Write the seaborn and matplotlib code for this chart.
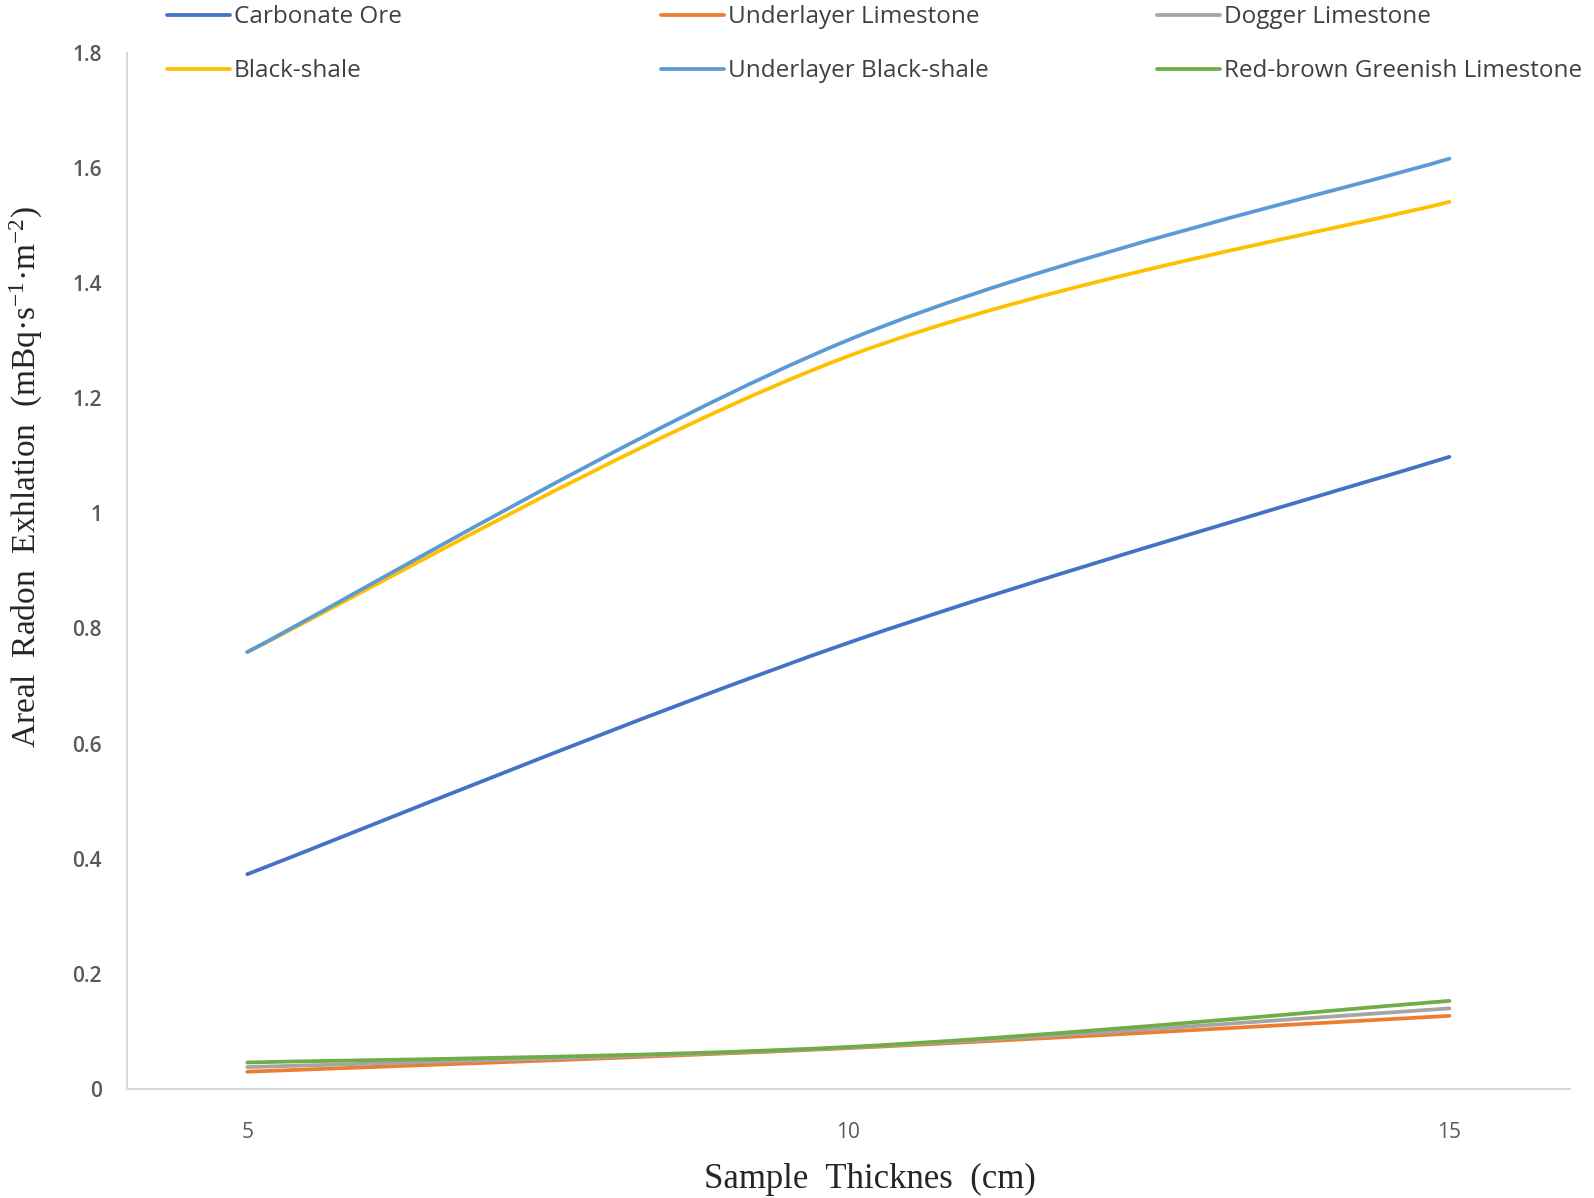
"""
Areal radon exhalation vs. sample thickness, six rock types.
Excel-style smoothed lines (Bezier through the measured points).
"""

import numpy as np
import matplotlib
matplotlib.use("Agg")
import matplotlib.pyplot as plt
from matplotlib.path import Path
from matplotlib.patches import PathPatch
from matplotlib.lines import Line2D
import seaborn as sns

OUT_PATH = "out.png"

# ── data ─────────────────────────────────────────────────────────────────────
THICKNESS = [5, 10, 15]

CARBONATE_ORE          = [0.373, 0.775, 1.098]
UNDERLAYER_LIMESTONE   = [0.030, 0.071, 0.127]
DOGGER_LIMESTONE       = [0.038, 0.072, 0.140]
BLACK_SHALE            = [0.759, 1.273, 1.541]
UNDERLAYER_BLACK_SHALE = [0.759, 1.301, 1.616]
RED_BROWN_GREENISH     = [0.046, 0.073, 0.153]

SERIES = [
    ("Carbonate Ore",                CARBONATE_ORE,          "#4472C4"),
    ("Underlayer Limestone",         UNDERLAYER_LIMESTONE,   "#ED7D31"),
    ("Dogger Limestone",             DOGGER_LIMESTONE,       "#A5A5A5"),
    ("Black-shale",                  BLACK_SHALE,            "#FFC000"),
    ("Underlayer Black-shale",       UNDERLAYER_BLACK_SHALE, "#5B9BD5"),
    ("Red-brown Greenish Limestone", RED_BROWN_GREENISH,     "#70AD47"),
]

Y_TICKS = [0, 0.2, 0.4, 0.6, 0.8, 1.0, 1.2, 1.4, 1.6, 1.8]

# legend columns (Excel lays them out with equal widths)
LEGEND_COLUMNS = [
    ["Carbonate Ore", "Black-shale"],
    ["Underlayer Limestone", "Underlayer Black-shale"],
    ["Dogger Limestone", "Red-brown Greenish Limestone"],
]
LEGEND_X = [0.091, 0.401, 0.712]

LINE_WIDTH = 2.7
TICK_COLOR = "#595959"
SPINE_COLOR = "#D9D9D9"


def smooth_path(xs, ys):
    """Catmull-Rom style cubic Bezier path through the points (like Excel)."""
    pts = np.column_stack([xs, ys]).astype(float)
    n = len(pts)
    verts = [pts[0]]
    codes = [Path.MOVETO]
    for i in range(n - 1):
        p_prev = pts[i - 1] if i > 0 else pts[i]
        p_next = pts[i + 2] if i + 2 < n else pts[i + 1]
        c1 = pts[i] + (pts[i + 1] - p_prev) / 6.0
        c2 = pts[i + 1] - (p_next - pts[i]) / 6.0
        verts += [c1, c2, pts[i + 1]]
        codes += [Path.CURVE4] * 3
    return Path(verts, codes)


def main() -> None:
    sns.set_style("white")
    plt.rcParams["font.family"] = ["Open Sans", "DejaVu Sans"]
    plt.rcParams["mathtext.fontset"] = "stix"
    plt.rcParams["mathtext.default"] = "regular"

    fig = plt.figure(figsize=(15.94, 11.98), dpi=100)
    ax = fig.add_axes([0.0797, 0.091, 0.905, 0.865])

    handles = {}
    for label, values, color in SERIES:
        patch = PathPatch(
            smooth_path(THICKNESS, values),
            facecolor="none", edgecolor=color, linewidth=LINE_WIDTH,
            capstyle="round", joinstyle="round", transform=ax.transData,
        )
        ax.add_patch(patch)
        handles[label] = Line2D([], [], color=color, linewidth=LINE_WIDTH)

    ax.set_xlim(4, 16)
    ax.set_ylim(0, 1.8)
    ax.set_xticks(THICKNESS)
    ax.set_yticks(Y_TICKS)
    ax.set_yticklabels([f"{v:g}" for v in Y_TICKS])
    ax.tick_params(axis="both", length=0, labelsize=15, colors=TICK_COLOR)
    ax.tick_params(axis="x", pad=24)
    ax.tick_params(axis="y", pad=18)
    for lbl in ax.get_yticklabels():
        lbl.set_fontweight("semibold")

    for side in ("top", "right"):
        ax.spines[side].set_visible(False)
    for side in ("left", "bottom"):
        ax.spines[side].set_color(SPINE_COLOR)
        ax.spines[side].set_linewidth(1.5)

    serif = ["Liberation Serif", "DejaVu Serif"]
    ax.set_xlabel("Sample  Thicknes  (cm)", fontsize=25, family=serif,
                  color="#262626")
    ax.xaxis.set_label_coords(0.515, -0.071)
    ax.set_ylabel("Areal  Radon  Exhlation  (mBq·s$^{-1}$·m$^{-2}$)",
                  fontsize=24, family=serif, color="#262626")
    ax.yaxis.set_label_coords(-0.057, 0.59)

    for xpos, labels in zip(LEGEND_X, LEGEND_COLUMNS):
        leg = fig.legend(
            [handles[k] for k in labels], labels,
            loc="upper left", bbox_to_anchor=(xpos, 1.014),
            ncol=1, frameon=False, fontsize=17.5,
            handlelength=2.6, handletextpad=0.15, labelspacing=1.25,
        )
        for txt in leg.get_texts():
            txt.set_color("#404040")

    fig.savefig(OUT_PATH, dpi=100)
    plt.close(fig)


if __name__ == "__main__":
    main()
